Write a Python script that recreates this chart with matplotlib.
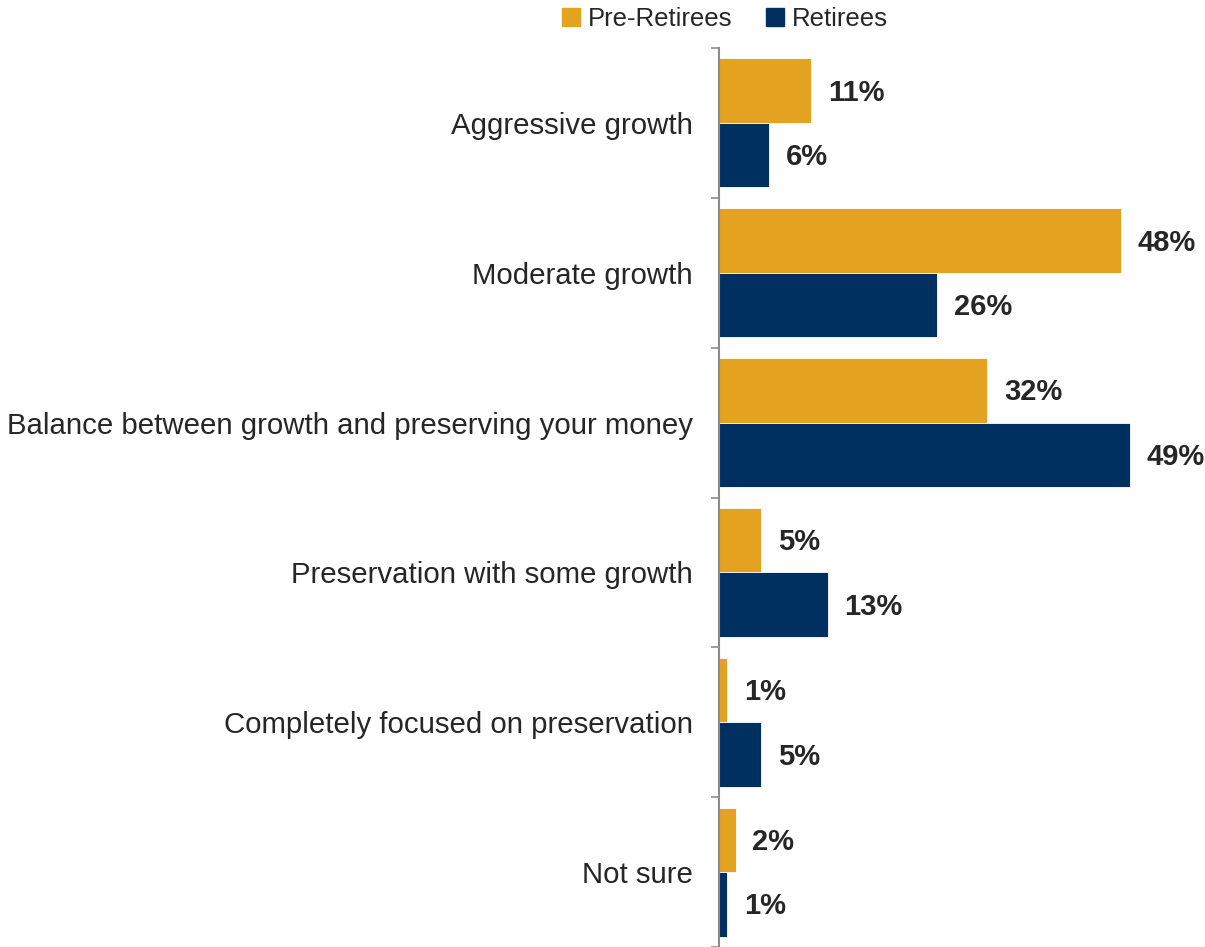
import numpy as np
import matplotlib.pyplot as plt
from matplotlib.patches import Patch

plt.rcParams['font.family'] = ['Liberation Sans', 'DejaVu Sans']

categories = [
    "Aggressive growth",
    "Moderate growth",
    "Balance between growth and preserving your money",
    "Preservation with some growth",
    "Completely focused on preservation",
    "Not sure",
]
pre_retirees = [11, 48, 32, 5, 1, 2]
retirees = [6, 26, 49, 13, 5, 1]
series_names = ["Pre-Retirees", "Retirees"]

ORANGE = "#E3A21F"
NAVY = "#00305F"
TEXT = "#262626"

fig = plt.figure(figsize=(12.05, 9.47), dpi=100)
ax = fig.add_axes([719 / 1205, 0.0, 1 - 719 / 1205, (947 - 48) / 947])

y = np.arange(len(categories))
h = 0.43
ax.barh(y - h / 2, pre_retirees, height=h, color=ORANGE, edgecolor="white", linewidth=0.6)
ax.barh(y + h / 2, retirees, height=h, color=NAVY, edgecolor="white", linewidth=0.6)

for yi, v in zip(y - h / 2, pre_retirees):
    ax.annotate(f"{v}%", (v, yi), xytext=(12, -1.5), textcoords="offset points",
                va="center", ha="left", fontsize=21, fontweight="bold", color=TEXT)
for yi, v in zip(y + h / 2, retirees):
    ax.annotate(f"{v}%", (v, yi), xytext=(12, -1.5), textcoords="offset points",
                va="center", ha="left", fontsize=21, fontweight="bold", color=TEXT)

ax.set_xlim(0, 58)
ax.set_ylim(len(categories) - 0.5, -0.5)

# category labels sit between the group separator ticks
ax.set_yticks(y)
ax.set_yticklabels(categories, fontsize=21.2, color=TEXT)
ax.set_yticks(np.arange(len(categories) + 1) - 0.5, minor=True)
ax.tick_params(axis="y", which="major", length=0, pad=19)
ax.tick_params(axis="y", which="minor", length=6, width=1.2, color="#8c8c8c")

ax.set_xticks([])
for side in ["top", "right", "bottom"]:
    ax.spines[side].set_visible(False)
ax.spines["left"].set_color("#8c8c8c")
ax.spines["left"].set_linewidth(1.5)

handles = [Patch(color=ORANGE), Patch(color=NAVY)]
fig.legend(handles, series_names, loc="center", bbox_to_anchor=(725 / 1205, 1 - 19 / 947),
           ncol=2, frameon=False, fontsize=18.5, handlelength=0.7, handleheight=0.7,
           handletextpad=0.3, columnspacing=1.3, labelcolor=TEXT)

fig.savefig("out.png", dpi=100)
